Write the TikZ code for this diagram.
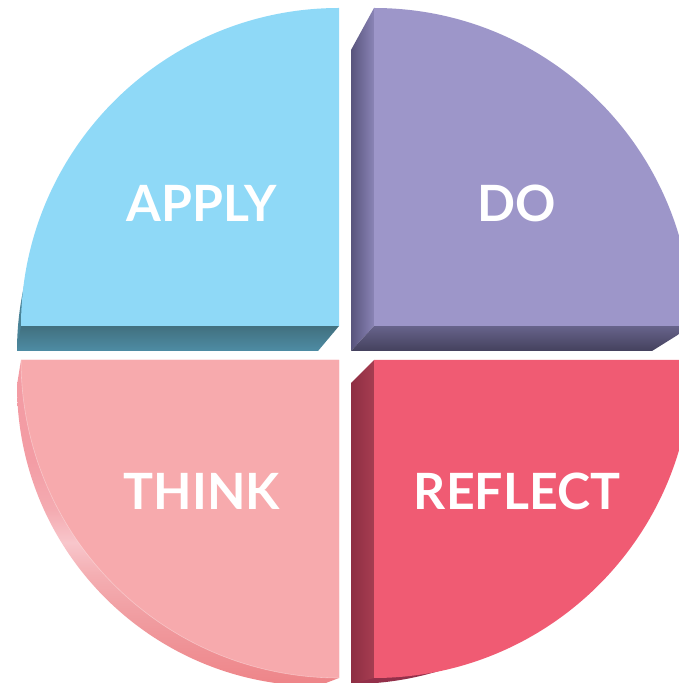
\documentclass[tikz,border=0pt]{standalone}
\usepackage{fontspec}
\newfontfamily\lato{Lato}
\definecolor{applyface}{HTML}{8FD9F7}
\definecolor{applybevtop}{HTML}{41707F}
\definecolor{applybevbot}{HTML}{4E8CA4}
\definecolor{applyside}{HTML}{4A8397}
\definecolor{doface}{HTML}{9D96C9}
\definecolor{dosideL}{HTML}{58547C}
\definecolor{dosideR}{HTML}{8A84B6}
\definecolor{dobevtop}{HTML}{67638B}
\definecolor{dobevbot}{HTML}{44415D}
\definecolor{refface}{HTML}{F05B73}
\definecolor{refsideL}{HTML}{8E2E43}
\definecolor{refsideR}{HTML}{A63D51}
\definecolor{refdark}{HTML}{93304A}
\definecolor{thinkface}{HTML}{F7AAAD}
\definecolor{thkA}{HTML}{EE8488}
\definecolor{thkB}{HTML}{F09B9F}
\definecolor{thkC}{HTML}{F4AEB2}
\definecolor{thkH}{HTML}{F8C6CB}
\definecolor{thkD}{HTML}{F4ABB1}
\definecolor{thkE}{HTML}{F39CA4}
\pgfdeclareverticalshading{thinksh}{100bp}{color(0bp)=(thkA); color(25bp)=(thkA); color(35bp)=(thkB); color(42bp)=(thkC); color(47bp)=(thkH); color(52bp)=(thkD); color(60bp)=(thkE); color(100bp)=(thkE)}
\begin{document}
\begin{tikzpicture}[x=1pt,y=1pt,
  lbl/.style={font=\lato\bfseries\fontsize{50}{50}\selectfont, text=white, inner sep=0pt}]
\useasboundingbox (0,0) rectangle (679,683);
\begin{scope}
\clip (0,0) rectangle (679,683);
% APPLY (top left)
\fill[applyside] (318,332) -- (318,633) arc[start angle=90,end angle=180,radius=301] -- cycle;
\shade[top color=applybevtop,bottom color=applybevbot] (339,357) -- (318,332) -- (17,332) -- (21,357) -- cycle;
\fill[applyface] (339,357) -- (339,675) arc[start angle=90,end angle=180,radius=318] -- cycle;
% DO (top right)
\shade[left color=dosideL,right color=dosideR] (374,675) -- (351,633) -- (351,332) -- (374,357) -- cycle;
\shade[top color=dobevtop,bottom color=dobevbot] (374,357) -- (351,332) -- (652,332) -- (692,357) -- cycle;
\fill[doface] (374,357) -- (692,357) arc[start angle=0,end angle=90,radius=318] -- cycle;
% REFLECT (bottom right)
\fill[refdark] (351,300) -- (351,-1) arc[start angle=270,end angle=360,radius=301] -- cycle;
\shade[left color=refsideL,right color=refsideR] (374,323) -- (351,300) -- (351,-1) -- (374,5) -- cycle;
\fill[refface] (374,323) -- (374,5) arc[start angle=270,end angle=360,radius=318] -- cycle;
% THINK (bottom left)
\shade[shading=thinksh] (339,323) -- (21,323) -- (17,298) arc[start angle=180,end angle=270,radius=301] -- (339,5) -- cycle;
\fill[thinkface] (339,323) -- (21,323) arc[start angle=180,end angle=270,radius=318] -- cycle;
\draw[white,opacity=.35,line width=.6] (21,323) arc[start angle=180,end angle=270,radius=318];
\end{scope}
\node[lbl] (apply) at (202,480) {APPLY};
\node[lbl] (do) at (517,480) {DO};
\node[lbl] (think) at (202,192) {THINK};
\node[lbl] (reflect) at (517,192) {REFLECT};
\end{tikzpicture}
\end{document}
